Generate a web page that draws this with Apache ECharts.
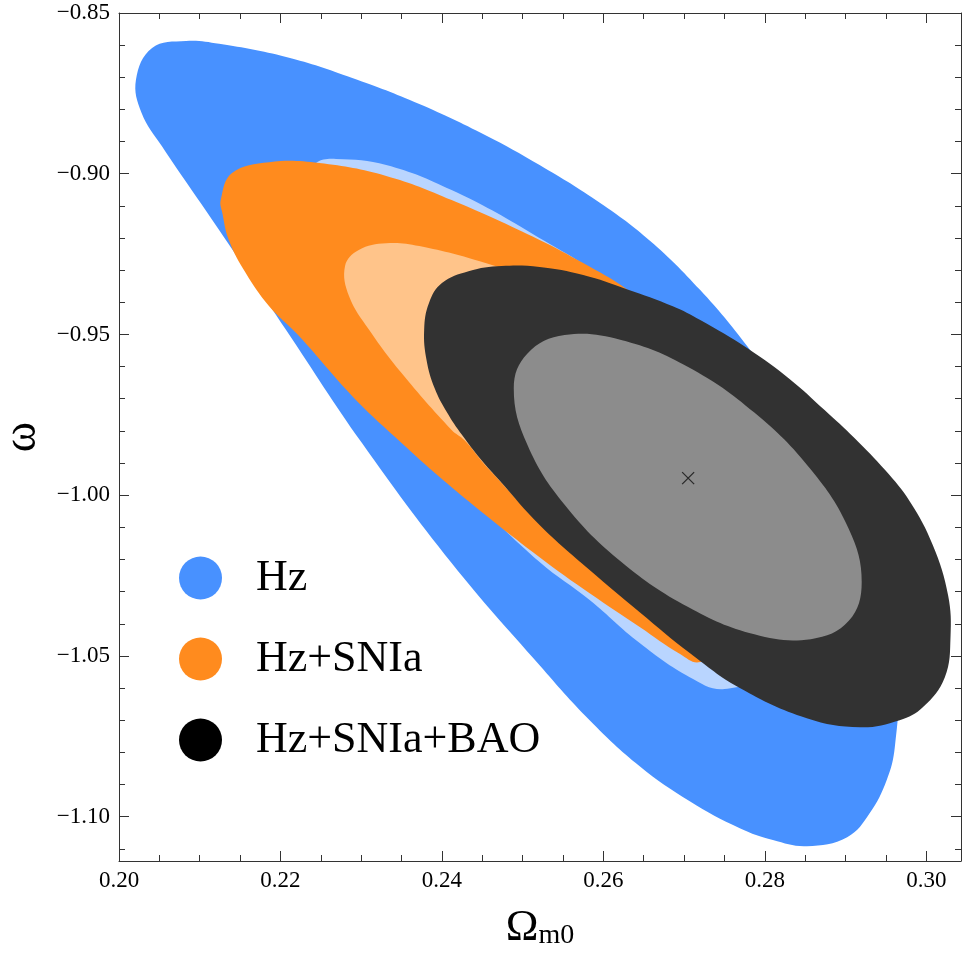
<!DOCTYPE html>
<html>
<head>
<meta charset="utf-8">
<script src="https://cdn.jsdelivr.net/npm/echarts@6/dist/echarts.min.js"></script>
<style>
html, body { margin: 0; padding: 0; background: #fff; }
#chart { width: 963px; height: 960px; }
</style>
</head>
<body>
<div id="chart"></div>
<script>
// confidence contours, points are [Omega_m0, w]
var hzOuter = [
    [0.2021, -0.8708], [0.2041, -0.8609], [0.2083, -0.8587], [0.2124, -0.8596],
    [0.2207, -0.8637], [0.2289, -0.8702], [0.2372, -0.8783], [0.2454, -0.8880],
    [0.2521, -0.8973], [0.2596, -0.9091], [0.2658, -0.9209], [0.2720, -0.9362],
    [0.2778, -0.9536], [0.2843, -0.9766], [0.2905, -1.0015], [0.2949, -1.0326],
    [0.2965, -1.0575], [0.2961, -1.0784], [0.2951, -1.0886], [0.2930, -1.0989],
    [0.2902, -1.1064], [0.2852, -1.1092], [0.2810, -1.1073], [0.2769, -1.1036],
    [0.2707, -1.0952], [0.2645, -1.0843], [0.2583, -1.0700], [0.2521, -1.0529],
    [0.2412, -1.0211], [0.2301, -0.9838], [0.2207, -0.9486], [0.2124, -0.9175],
    [0.2053, -0.8914], [0.2028, -0.8811]
];
var hzInner = [
    [0.2244, -0.8967], [0.2269, -0.8954], [0.2331, -0.8973], [0.2412, -0.9051],
    [0.2511, -0.9185], [0.2620, -0.9362], [0.2720, -0.9611], [0.2794, -0.9922],
    [0.2825, -1.0295], [0.2800, -1.0544], [0.2750, -1.0603], [0.2707, -1.0566],
    [0.2645, -1.0460], [0.2583, -1.0326], [0.2521, -1.0208], [0.2435, -1.0000],
    [0.2348, -0.9766], [0.2261, -0.9455], [0.2224, -0.9175], [0.2224, -0.9035]
];
var snOuter = [
    [0.2126, -0.9082], [0.2140, -0.8998], [0.2186, -0.8964], [0.2248, -0.8967],
    [0.2331, -0.9007], [0.2412, -0.9082], [0.2521, -0.9206], [0.2575, -0.9278],
    [0.2629, -0.9359], [0.2695, -0.9486], [0.2757, -0.9704], [0.2800, -0.9953],
    [0.2806, -1.0233], [0.2775, -1.0435], [0.2720, -1.0519], [0.2695, -1.0494],
    [0.2645, -1.0410], [0.2583, -1.0305], [0.2521, -1.0193], [0.2412, -0.9975],
    [0.2342, -0.9819], [0.2289, -0.9692], [0.2223, -0.9505], [0.2186, -0.9412],
    [0.2157, -0.9309], [0.2136, -0.9206], [0.2128, -0.9122]
];
var snInner = [
    [0.2280, -0.9287], [0.2297, -0.9237], [0.2331, -0.9216], [0.2372, -0.9225],
    [0.2454, -0.9278], [0.2509, -0.9331], [0.2596, -0.9486], [0.2645, -0.9704],
    [0.2658, -0.9953], [0.2633, -1.0140], [0.2583, -1.0171], [0.2521, -1.0078],
    [0.2459, -0.9922], [0.2428, -0.9829], [0.2412, -0.9797], [0.2350, -0.9620],
    [0.2310, -0.9486], [0.2285, -0.9381]
];
var baoOuter = [
    [0.2384, -0.9402], [0.2400, -0.9340], [0.2433, -0.9303], [0.2474, -0.9287],
    [0.2521, -0.9290], [0.2575, -0.9315], [0.2629, -0.9359], [0.2686, -0.9412],
    [0.2720, -0.9455], [0.2778, -0.9542], [0.2831, -0.9639], [0.2874, -0.9735],
    [0.2911, -0.9822], [0.2949, -0.9922], [0.2980, -1.0021], [0.3008, -1.0155],
    [0.3027, -1.0311], [0.3030, -1.0442], [0.3023, -1.0566], [0.2996, -1.0659],
    [0.2967, -1.0700], [0.2918, -1.0722], [0.2852, -1.0694], [0.2769, -1.0600],
    [0.2707, -1.0491], [0.2645, -1.0364], [0.2583, -1.0233], [0.2521, -1.0093],
    [0.2472, -0.9956], [0.2447, -0.9885], [0.2425, -0.9813], [0.2406, -0.9741],
    [0.2391, -0.9667], [0.2381, -0.9580], [0.2378, -0.9486]
];
var baoInner = [
    [0.2920, -1.0270], [0.2904, -1.0391], [0.2857, -1.0448], [0.2787, -1.0433],
    [0.2705, -1.0348], [0.2622, -1.0207], [0.2552, -1.0030], [0.2506, -0.9844],
    [0.2489, -0.9667], [0.2506, -0.9559], [0.2552, -0.9502], [0.2622, -0.9517],
    [0.2705, -0.9601], [0.2787, -0.9743], [0.2857, -0.9920], [0.2904, -1.0105]
];
var bestFit = [[0.2705, -0.9947]];

var legendNames = ["Hz", "Hz+SNIa", "Hz+SNIa+BAO"];
var xMajor = [0.20, 0.22, 0.24, 0.26, 0.28, 0.30];
var xMinor = [0.205, 0.21, 0.215, 0.225, 0.23, 0.235, 0.245, 0.25, 0.255,
    0.265, 0.27, 0.275, 0.285, 0.29, 0.295];
var yMajor = [-1.10, -1.05, -1.00, -0.95, -0.90, -0.85];
var yMinor = [-1.11, -1.09, -1.08, -1.07, -1.06, -1.04, -1.03, -1.02, -1.01,
    -0.99, -0.98, -0.97, -0.96, -0.94, -0.93, -0.92, -0.91, -0.89, -0.88, -0.87, -0.86];

var X_MIN = 0.2, X_MAX = 0.3043;
var Y_MIN = -1.1138, Y_MAX = -0.85;
var SERIF = "Liberation Serif";

function axis(dim, pos, ticks, len, main) {
    return {
        type: "value",
        gridIndex: 0,
        position: pos,
        min: dim === "x" ? X_MIN : Y_MIN,
        max: dim === "x" ? X_MAX : Y_MAX,
        splitLine: { show: false },
        axisLine: { show: main, onZero: false, lineStyle: { color: "#333", width: 1 } },
        axisTick: {
            inside: true,
            length: len,
            customValues: ticks,
            lineStyle: { color: "#333", width: 1 }
        },
        axisLabel: { show: false }
    };
}

var xBottom = axis("x", "bottom", xMajor, 10, true);
xBottom.axisLabel = {
    show: true,
    customValues: xMajor,
    margin: 8,
    fontFamily: SERIF,
    fontSize: 23,
    color: "#000",
    formatter: function (v) { return v.toFixed(2); }
};
xBottom.name = "{o|\u03A9}{s|m0}";
xBottom.nameLocation = "middle";
xBottom.nameGap = 45;
xBottom.nameTextStyle = {
    rich: {
        o: { fontFamily: SERIF, fontSize: 44, color: "#000" },
        s: { fontFamily: SERIF, fontSize: 28, color: "#000", verticalAlign: "bottom", padding: [14, 0, 0, 0] }
    }
};

var yLeft = axis("y", "left", yMajor, 10, true);
yLeft.axisLabel = {
    show: true,
    customValues: yMajor,
    margin: 9,
    fontFamily: SERIF,
    fontSize: 23,
    color: "#000",
    formatter: function (v) { return v.toFixed(2).replace("-", "\u2212"); }
};
yLeft.name = "\u03C9";
yLeft.nameLocation = "middle";
yLeft.nameGap = 70;
yLeft.nameTextStyle = { fontFamily: SERIF, fontSize: 46, color: "#000" };

function contourSeries(name, shapes, fills) {
    return {
        name: name,
        type: "custom",
        xAxisIndex: 0,
        yAxisIndex: 0,
        silent: true,
        clip: true,
        itemStyle: { color: fills[0] },
        data: shapes.map(function (s, i) { return [i]; }),
        renderItem: function (params, api) {
            var pts = shapes[params.dataIndex].map(function (p) {
                return api.coord(p);
            });
            return {
                type: "polygon",
                shape: { points: pts, smooth: 0.4 },
                style: { fill: fills[params.dataIndex] }
            };
        }
    };
}

var chart = echarts.init(document.getElementById("chart"));
chart.setOption({
    animation: false,
    backgroundColor: "#fff",
    grid: {
        left: 119,
        top: 13,
        right: 2,
        bottom: 99,
        outerBoundsMode: "none"
    },
    legend: {
        orient: "vertical",
        left: 179,
        top: 556,
        padding: 0,
        itemWidth: 43,
        itemHeight: 43,
        itemGap: 37,
        icon: "circle",
        selectedMode: false,
        textStyle: { fontFamily: SERIF, fontSize: 44, color: "#000", padding: [0, 0, 0, 29] },
        data: [
            { name: legendNames[0], itemStyle: { color: "#4891FF" } },
            { name: legendNames[1], itemStyle: { color: "#FF8B1E" } },
            { name: legendNames[2], itemStyle: { color: "#000" } }
        ]
    },
    xAxis: [
        xBottom,
        axis("x", "bottom", xMinor, 6, false),
        axis("x", "top", xMajor, 10, true),
        axis("x", "top", xMinor, 6, false)
    ],
    yAxis: [
        yLeft,
        axis("y", "left", yMinor, 6, false),
        axis("y", "right", yMajor, 10, true),
        axis("y", "right", yMinor, 6, false)
    ],
    series: [
        contourSeries(legendNames[0], [hzOuter, hzInner], ["#4891FF", "#B9D5FF"]),
        contourSeries(legendNames[1], [snOuter, snInner], ["#FF8B1E", "#FFC48A"]),
        contourSeries(legendNames[2], [baoOuter, baoInner], ["#323232", "#8C8C8C"]),
        {
            name: "best fit",
            type: "scatter",
            xAxisIndex: 0,
            yAxisIndex: 0,
            silent: true,
            symbol: "path://M0 0L10 10M10 0L0 10",
            symbolSize: 12,
            itemStyle: { color: "rgba(0,0,0,0)", borderColor: "#111", borderWidth: 1.3 },
            data: bestFit
        }
    ]
});
</script>
</body>
</html>
